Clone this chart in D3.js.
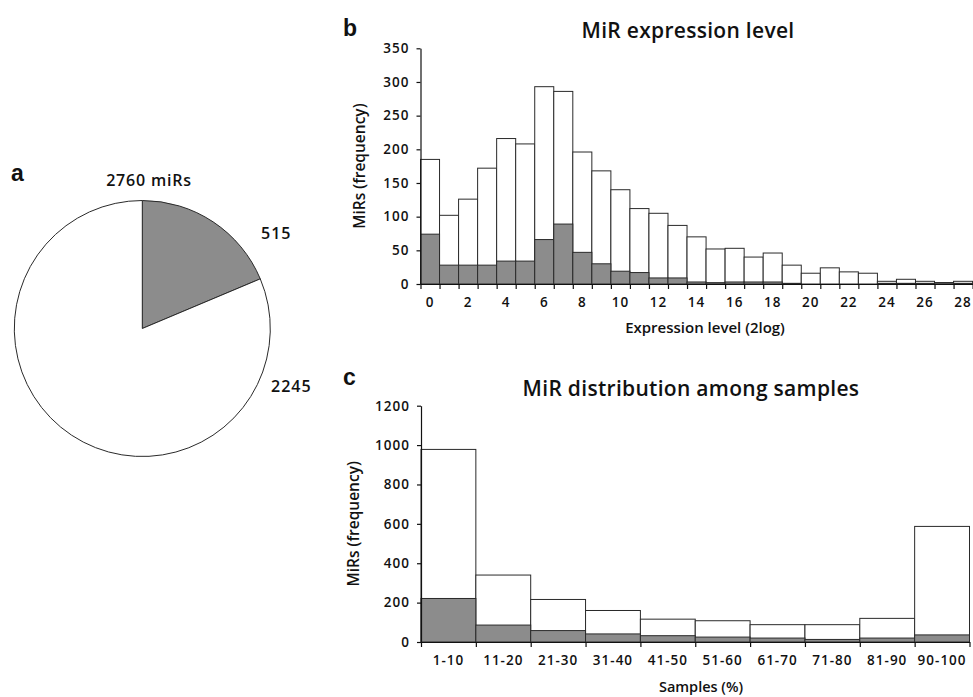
<!doctype html>
<meta charset="utf-8">
<title>MiR expression</title>
<style>
  body { margin: 0; background: #fff; }
  text { font-family: "Open Sans", sans-serif; fill: #111; }
  .tick text { font-size: 13.5px; font-weight: 600; letter-spacing: 1px; }
  .axis path, .axis line { stroke: #111; stroke-width: 1.2; }
</style>
<svg id="visual" width="973" height="697"></svg>
<script src="https://cdn.jsdelivr.net/npm/d3@7/dist/d3.min.js"></script>
<script>

// (pie_data)
var pieLabels = ["515", "2245"];
var pieValues = [515, 2245];
var pieTotal = "2760 miRs";

// (expression_data)
var exprBins = d3.range(0, 29);
var exprTotal = [185, 102, 126, 172, 216, 208, 293, 286, 196, 168, 140, 112, 105, 87, 70, 52, 53, 40, 46, 28, 16, 24, 18, 16, 4, 7, 4, 2, 4];
var exprGray  = [74, 28, 28, 28, 34, 34, 66, 89, 47, 30, 19, 17, 9, 9, 3, 2, 3, 3, 3, 1, 0, 0, 0, 0, 1, 1, 1, 2, 1];
var exprTicks = [0, 50, 100, 150, 200, 250, 300, 350];

// (samples_data)
var sampleCats = ["1-10", "11-20", "21-30", "31-40", "41-50", "51-60", "61-70", "71-80", "81-90", "90-100"];
var sampleTotal = [978, 340, 216, 160, 116, 108, 88, 88, 120, 587];
var sampleGray  = [221, 86, 58, 41, 32, 25, 20, 13, 20, 36];
var sampleTicks = [0, 200, 400, 600, 800, 1000, 1200];

var grayFill = "#8c8c8c";
var edge = "#2a2a2a";

var svg = d3.select("#visual");

// (panel letters)
svg.selectAll("text.letter")
  .data([{t: "a", x: 11, y: 181}, {t: "b", x: 343, y: 36}, {t: "c", x: 343, y: 385}])
  .enter().append("text")
  .attr("class", "letter")
  .attr("x", function(d) { return d.x; })
  .attr("y", function(d) { return d.y; })
  .style("font-family", "'Liberation Sans', Arial, sans-serif")
  .style("font-weight", "bold")
  .style("font-size", "23px")
  .text(function(d) { return d.t; });

// (pie)
var pie = d3.pie().sort(null).value(function(d) { return d; });
var arc = d3.arc().innerRadius(0).outerRadius(128);
var pieG = svg.append("g").attr("transform", "translate(142.3,328.5)");
pieG.selectAll("path")
  .data(pie(pieValues))
  .enter().append("path")
  .attr("d", arc)
  .attr("fill", function(d, i) { return i === 0 ? grayFill : "#fff"; })
  .attr("stroke", edge)
  .attr("stroke-width", 1);

svg.append("text")
  .attr("x", 149).attr("y", 186)
  .attr("text-anchor", "middle")
  .style("font-size", "16px").style("font-weight", 600).style("letter-spacing", "0.8px")
  .text(pieTotal);

svg.selectAll("text.pielab")
  .data([{t: pieLabels[0], x: 261, y: 239}, {t: pieLabels[1], x: 271, y: 392}])
  .enter().append("text")
  .attr("class", "pielab")
  .attr("x", function(d) { return d.x; })
  .attr("y", function(d) { return d.y; })
  .style("font-size", "16px").style("font-weight", 600).style("letter-spacing", "1px")
  .text(function(d) { return d.t; });

// (histogram helper)
function panel(opts) {
  var g = svg.append("g");
  var x = d3.scaleBand().domain(opts.cats).range([opts.x0, opts.x1]).padding(0);
  var xEdge = d3.scaleLinear().domain([0, opts.cats.length]).range([opts.x0, opts.x1]);
  var y = d3.scaleLinear().domain([0, opts.ymax]).range([opts.y0, opts.y1]);

  g.selectAll("rect.tot")
    .data(opts.total)
    .enter().append("rect")
    .attr("x", function(d, i) { return x(opts.cats[i]); })
    .attr("y", function(d) { return y(d); })
    .attr("width", x.bandwidth())
    .attr("height", function(d) { return y(0) - y(d); })
    .attr("fill", "#fff").attr("stroke", edge).attr("stroke-width", 1);

  g.selectAll("rect.gray")
    .data(opts.gray)
    .enter().append("rect")
    .attr("x", function(d, i) { return x(opts.cats[i]); })
    .attr("y", function(d) { return y(d); })
    .attr("width", x.bandwidth())
    .attr("height", function(d) { return y(0) - y(d); })
    .attr("fill", grayFill).attr("stroke", edge).attr("stroke-width", 1);

  // tick marks at bin edges
  g.append("g").attr("class", "axis")
    .attr("transform", "translate(0," + opts.y0 + ")")
    .call(d3.axisBottom(xEdge).tickValues(d3.range(0, opts.cats.length + 1)).tickFormat("").tickSize(5).tickSizeOuter(0));

  // labels at bin centres
  g.append("g").attr("class", "axis labels")
    .attr("transform", "translate(0," + opts.y0 + ")")
    .call(d3.axisBottom(x).tickValues(opts.xLabels).tickSize(0).tickPadding(opts.xPad))
    .call(function(s) { s.select(".domain").remove(); });

  g.append("g").attr("class", "axis")
    .attr("transform", "translate(" + opts.x0 + ",0)")
    .call(d3.axisLeft(y).tickValues(opts.yTicks).tickFormat(d3.format("d")).tickSize(4).tickSizeOuter(0).tickPadding(7));

  g.append("text")
    .attr("x", opts.titleX).attr("y", opts.titleY)
    .attr("text-anchor", "middle")
    .style("font-size", "21px").style("font-weight", 600).style("letter-spacing", "0.3px")
    .text(opts.title);

  g.append("text")
    .attr("x", opts.xTitleX).attr("y", opts.xTitleY)
    .attr("text-anchor", "middle")
    .style("font-size", opts.xTitleSize).style("font-weight", 600)
    .text(opts.xTitle);

  g.append("text")
    .attr("transform", "translate(" + opts.yTitleX + "," + ((opts.y0 + opts.y1) / 2) + ") rotate(-90)")
    .attr("text-anchor", "middle")
    .style("font-size", "15.5px").style("font-weight", 600)
    .text("MiRs (frequency)");
}

panel({
  cats: exprBins, total: exprTotal, gray: exprGray,
  x0: 420.5, x1: 972.6, y0: 284, y1: 48.3, ymax: 350,
  yTicks: exprTicks, xLabels: exprBins.filter(function(d) { return d % 2 === 0; }), xPad: 13,
  title: "MiR expression level", titleX: 688, titleY: 38,
  xTitle: "Expression level (2log)", xTitleX: 705, xTitleY: 333, xTitleSize: "15px", yTitleX: 365
});

panel({
  cats: sampleCats, total: sampleTotal, gray: sampleGray,
  x0: 421, x1: 969.5, y0: 642, y1: 405.7, ymax: 1200,
  yTicks: sampleTicks, xLabels: sampleCats, xPad: 13,
  title: "MiR distribution among samples", titleX: 691, titleY: 396,
  xTitle: "Samples (%)", xTitleX: 701, xTitleY: 692, xTitleSize: "14.5px", yTitleX: 359
});

</script>
